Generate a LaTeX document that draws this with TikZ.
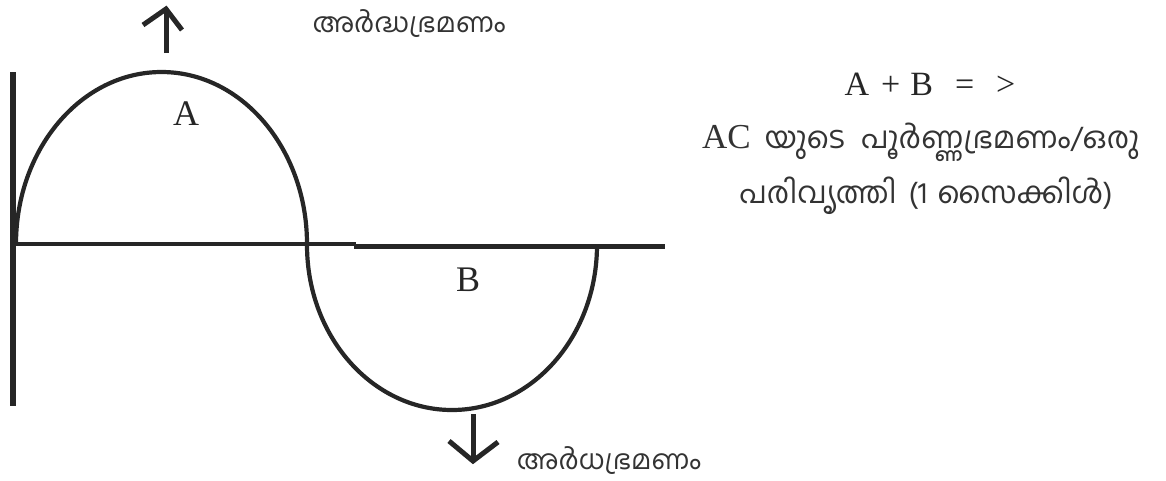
\documentclass[tikz,border=0pt]{standalone}
\usepackage{fontspec}
\setmainfont{Liberation Serif}
\newfontfamily\mlfont[Script=Malayalam]{Hind Kochi}
\begin{document}
\begin{tikzpicture}[x=1pt,y=-1pt,
  ink/.style={draw=black!85, line cap=butt},
  wave/.style={ink, line width=4.2pt},
  axisthin/.style={ink, line width=3.5pt},
  axisthick/.style={ink, line width=5pt},
  arr/.style={ink, line width=5pt, line join=miter},
  ml/.style={font=\mlfont\fontsize{27}{30}\selectfont, text=black!80, inner sep=0pt, anchor=base, text depth=0pt},
  mlbig/.style={font=\mlfont\fontsize{30}{34}\selectfont, text=black!80, inner sep=0pt, anchor=base},
  lat/.style={font=\fontsize{36}{40}\selectfont, text=black!85, inner sep=0pt, anchor=base}]
\useasboundingbox (0,0) rectangle (1166,480);
% axes
\coordinate (vtop) at (13,72);
\coordinate (vbot) at (13,406);
\draw[ink, line width=6pt] (vtop) -- (vbot);
\coordinate (h0) at (13,244);
\coordinate (h1) at (356,244);
\coordinate (h2) at (354,246);
\coordinate (h3) at (665,246);
\draw[axisthin] (h0) -- (h1);
\draw[axisthick] (h2) -- (h3);
% waves
\coordinate (a0) at (16,244);
\draw[wave] (a0) arc[start angle=180, end angle=360, x radius=145.5, y radius=172];
\coordinate (b0) at (307,245);
\draw[wave] (b0) arc[start angle=180, end angle=0, x radius=145, y radius=165];
% labels
\node[lat] (A) at (186,125) {A};
\node[lat] (B) at (468,291) {B};
% up arrow
\coordinate (u0) at (166,53);
\coordinate (u1) at (166,9);
\coordinate (ul) at (143,25);
\coordinate (ur) at (182,30);
\draw[arr] (u0) -- (u1);
\draw[arr] (ul) -- (u1) -- (ur);
% down arrow
\coordinate (d0) at (473,414);
\coordinate (d1) at (473,461);
\coordinate (dl) at (449,441);
\coordinate (dr) at (498,442);
\draw[arr] (d0) -- (d1);
\draw[arr] (dl) -- (d1) -- (dr);
% Malayalam labels
\node[ml] (top) at (409,32) {അർദ്ധഭ്രമണം};
\node[ml] (bot) at (609,469) {അർധഭ്രമണം};
% right block
\node[lat, font=\fontsize{34}{38}\selectfont] (eq) at (930,95) {A\hspace{12pt}+\hspace{10pt}B\hspace{22pt}=\hspace{22pt}>};
\node[mlbig, anchor=base west] (l2) at (702,148) {{\fontsize{35}{38}\selectfont\rmfamily AC}\hspace{14pt}യുടെ\hspace{16pt}പൂർണ്ണഭ്രമണം/ഒരു};
\node[mlbig] (l3) at (926,203) {പരിവൃത്തി\hspace{12pt}(1\hspace{10pt}സൈക്കിൾ)};
\end{tikzpicture}
\end{document}
